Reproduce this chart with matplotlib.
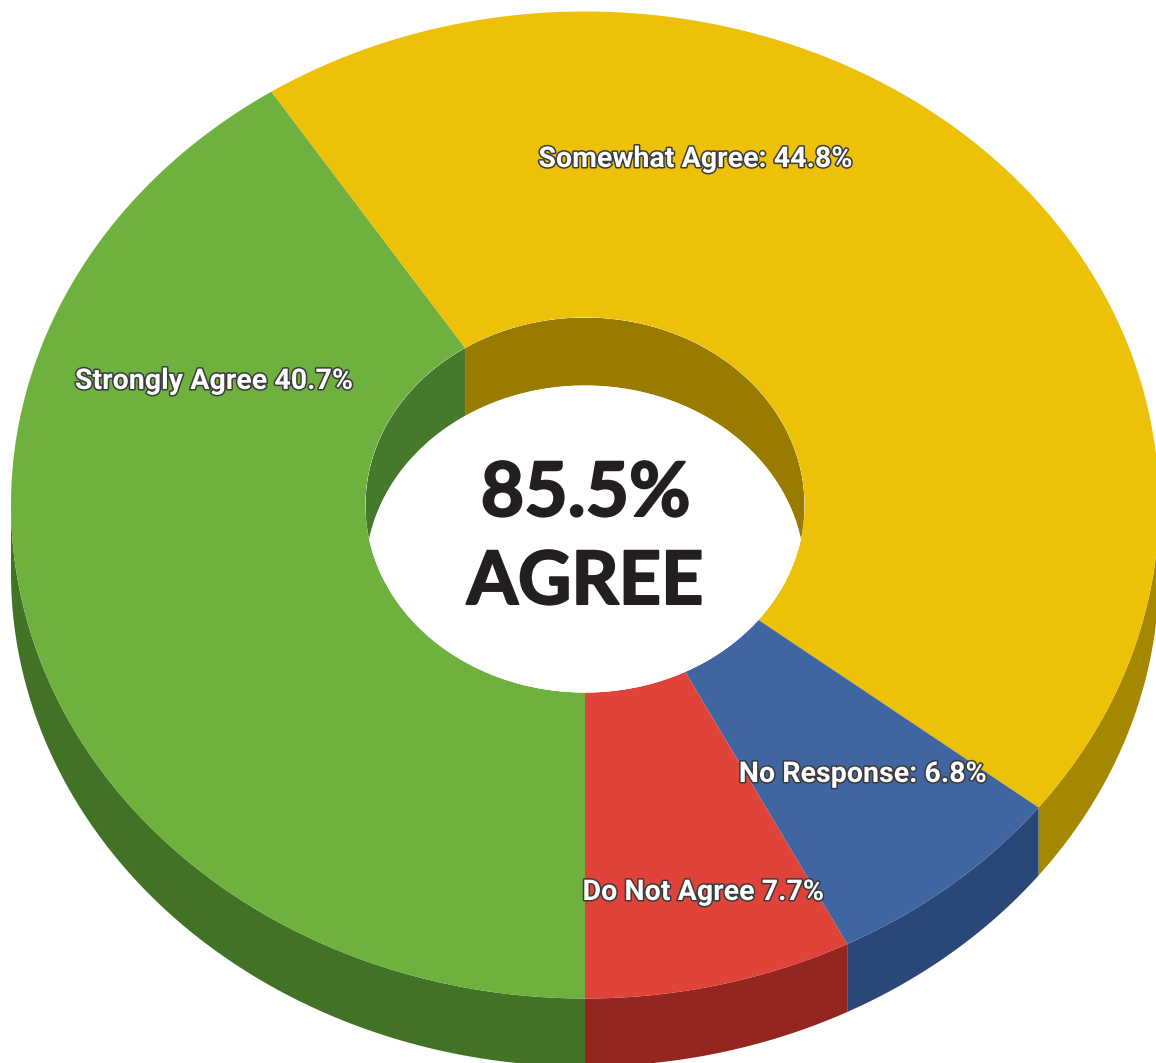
import numpy as np
import matplotlib
matplotlib.use('Agg')
import matplotlib.pyplot as plt
import matplotlib.patheffects as pe

# drawn shares, clockwise from the bottom of the ring
labels = ['Strongly Agree 40.7%', 'Somewhat Agree: 44.8%', 'No Response: 6.8%', 'Do Not Agree 7.7%']
shares = [40.8, 44.7, 6.95, 7.55]
top_colors = ['#6fb13e', '#ecc107', '#3f66a0', '#e0433a']
side_colors = ['#417225', '#a58700', '#294877', '#95251f']
inner_colors = ['#457a2c', '#997b00']
label_x = [214, 695.5, 863, 703.5]
label_y = [381, 159, 774, 892]

center_text = ['85.5%', 'AGREE']

# ring geometry in image pixels
cx, cy = 585, 505
rx, ry = 574, 493.5
hole_rx, hole_ry = 219.5, 187.5
depth = 68


def arc(a1, a2, w, h, dy=0, n=200):
    t = np.radians(np.linspace(a1, a2, n))
    return cx + w * np.cos(t), cy + dy - h * np.sin(t)


fig = plt.figure(figsize=(11.56, 10.63), dpi=100)
ax = fig.add_axes([0, 0, 1, 1])
ax.set_xlim(0, 1156)
ax.set_ylim(1063, 0)
ax.axis('off')

# slice edges go clockwise from 270 degrees
edges = 270 - np.cumsum([0] + shares) / sum(shares) * 360

# outer wall, only the front half shows
wall_spans = [(270, 180), (0, edges[2]), (edges[2], edges[3]), (edges[3], edges[4])]
for i, (a1, a2) in enumerate(wall_spans):
    x1, y1 = arc(a1, a2, rx, ry)
    x2, y2 = arc(a2, a1, rx, ry, depth)
    ax.fill(np.r_[x1, x2], np.r_[y1, y2], color=side_colors[i], lw=0, zorder=1)

# top face
for i in range(4):
    x1, y1 = arc(edges[i], edges[i + 1], rx, ry)
    x2, y2 = arc(edges[i + 1], edges[i], hole_rx, hole_ry)
    ax.fill(np.r_[x1, x2], np.r_[y1, y2], color=top_colors[i], lw=0, zorder=2)

# inner wall seen through the hole
hx, hy = arc(0, 360, hole_rx, hole_ry, n=400)
clip = ax.fill(hx, hy, color='white', lw=0, zorder=3)[0]
for i, a2 in enumerate([180, 0]):
    x1, y1 = arc(edges[1], a2, hole_rx, hole_ry)
    x2, y2 = arc(a2, edges[1], hole_rx, hole_ry, depth)
    wall = ax.fill(np.r_[x1, x2], np.r_[y1, y2], color=inner_colors[i], lw=0, zorder=4)[0]
    wall.set_clip_path(clip)
bx, by = arc(0, 360, hole_rx, hole_ry, depth, n=400)
floor = ax.fill(bx, by, color='white', lw=0, zorder=5)[0]
floor.set_clip_path(clip)

outline = [pe.withStroke(linewidth=2.2, foreground='#3a3a3a')]
for i in range(4):
    ax.text(label_x[i], label_y[i], labels[i], color='white', fontsize=20.6, fontweight='bold',
            family='Roboto', ha='center', va='center', path_effects=outline, zorder=6)

heavy = [pe.withStroke(linewidth=1.5, foreground='#231f20')]
ax.text(585.5, 516, center_text[0], color='#231f20', fontsize=54, fontweight='bold',
        family='Lato', ha='center', va='baseline', path_effects=heavy, zorder=6)
ax.text(585, 604, center_text[1], color='#231f20', fontsize=53, fontweight='bold',
        family='Lato', ha='center', va='baseline', path_effects=heavy, zorder=6)

fig.savefig('out.png', dpi=100, facecolor='white')
